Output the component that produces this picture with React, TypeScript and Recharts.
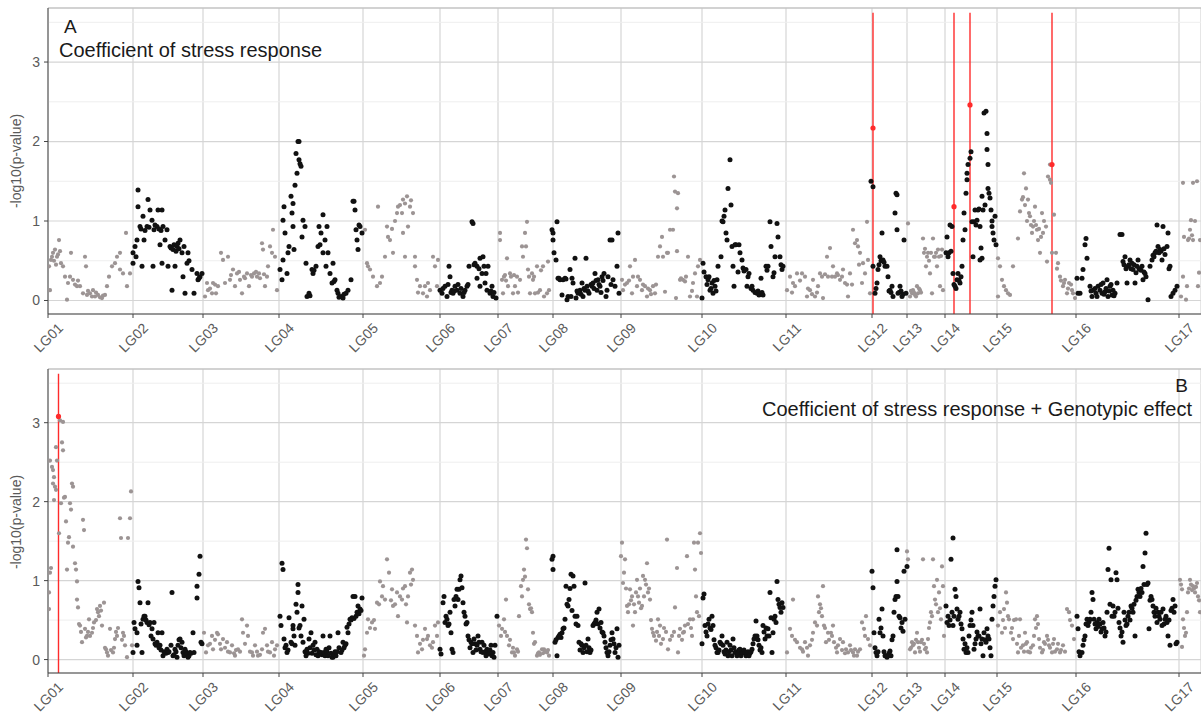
import {
  CartesianGrid,
  ReferenceLine,
  Scatter,
  ScatterChart,
  XAxis,
  YAxis,
} from "recharts";

// linkage groups: label and start position on the concatenated map
const lgNames = ["LG01", "LG02", "LG03", "LG04", "LG05", "LG06", "LG07", "LG08", "LG09", "LG10", "LG11", "LG12", "LG13", "LG14", "LG15", "LG16", "LG17"];
const lgStarts = [0, 85, 155, 231, 315, 392, 450, 505, 573, 654, 738, 824, 859, 897, 949, 1028, 1131];
const yTicks = [0, 1, 2, 3];
const yMinor = [0.5, 1.5, 2.5, 3.5];

// ---- panel A: coefficient of stress response, [position, -log10(p)] ----
const A_LG01 = [[1,0.43],[2,0.13],[3,0.51],[4,0.55],[5,0.6],[6,0.5],[7,0.64],[8,0.45],[9,0.55],[10,0.58],[11,0.76],[12,0.62],[13,0.47],[15,0.43],[17,0.3],[19,0.01],[20,0.22],[22,0.3],[23,0.6],[25,0.26],[27,0.2],[29,0.18],[30,0.25],[32,0.18],[35,0.09],[37,0.55],[38,0.43],[39,0.07],[40,0.12],[42,0.09],[44,0.05],[45,0.13],[47,0.05],[48,0.1],[50,0.07],[52,0.04],[54,0.03],[55,0.06],[57,0.07],[59,0.18],[61,0.3],[64,0.43],[67,0.47],[69,0.55],[72,0.39],[72,0.6],[75,0.34],[78,0.85],[79,0.18],[82,0.34]];
const A_LG02 = [[85,0.47],[85,0.6],[87,0.68],[88,0.55],[89,0.76],[90,1.18],[90,1.39],[92,0.93],[93,0.9],[94,0.43],[95,1.06],[96,0.76],[97,0.88],[99,0.93],[100,1.27],[101,0.92],[102,1.14],[104,1.01],[105,0.43],[106,0.89],[107,0.95],[109,0.93],[110,1.14],[111,0.9],[112,0.7],[113,0.88],[114,1.14],[114,0.47],[115,0.93],[117,0.76],[119,0.89],[120,0.43],[122,0.68],[123,0.66],[124,0.13],[125,0.64],[126,0.7],[127,0.43],[128,0.62],[129,0.68],[130,0.72],[131,0.65],[132,0.76],[134,0.6],[135,0.3],[136,0.68],[137,0.09],[139,0.47],[140,0.6],[141,0.5],[144,0.39],[146,0.09],[149,0.34],[150,0.26],[151,0.28],[152,0.3],[154,0.34]];
const A_LG03 = [[157,0.05],[159,0.22],[160,0.13],[162,0.15],[164,0.09],[165,0.22],[167,0.2],[168,0.09],[170,0.18],[173,0.6],[175,0.51],[177,0.22],[180,0.55],[182,0.26],[183,0.32],[185,0.39],[187,0.18],[189,0.34],[191,0.36],[192,0.26],[194,0.09],[196,0.3],[197,0.28],[199,0.34],[201,0.18],[203,0.32],[204,0.3],[206,0.34],[208,0.36],[209,0.3],[211,0.34],[212,0.28],[214,0.72],[215,0.64],[216,0.33],[217,0.18],[219,0.3],[220,0.43],[222,0.68],[224,0.6],[225,0.89],[227,0.55],[229,0.13]];
const A_LG04 = [[232,0.39],[234,0.26],[235,0.51],[235,1.01],[236,1.18],[237,0.85],[239,0.34],[240,0.6],[241,0.68],[243,1.31],[244,1.1],[245,1.22],[245,0.93],[246,0.64],[247,1.45],[248,1.85],[249,1.6],[250,2.0],[251,2.0],[251,1.77],[252,1.72],[253,1.69],[254,0.8],[255,1.01],[257,0.93],[258,0.47],[259,0.05],[261,0.09],[262,0.06],[264,0.39],[265,0.34],[266,0.38],[268,0.43],[270,0.68],[271,0.93],[272,0.7],[273,0.85],[275,1.08],[275,0.6],[277,0.76],[278,0.43],[279,0.93],[280,0.6],[282,0.34],[284,0.22],[285,0.47],[286,0.24],[287,0.26],[289,0.13],[290,0.09],[291,0.04],[293,0.05],[295,0.03],[296,0.08],[298,0.09],[300,0.13],[303,0.26],[305,1.25],[306,1.25],[307,1.14],[308,0.89],[309,0.76],[310,0.64],[311,0.95],[312,0.93],[314,0.85]];
const A_LG05 = [[317,0.89],[319,0.47],[320,0.43],[322,0.39],[325,0.3],[329,0.18],[330,1.18],[332,0.22],[334,0.3],[337,0.55],[339,0.93],[340,0.8],[342,0.76],[344,0.9],[345,0.6],[347,1.0],[349,1.1],[350,1.18],[352,1.2],[354,1.1],[355,1.27],[355,0.85],[357,0.55],[357,1.22],[359,1.31],[360,0.93],[362,1.18],[363,1.26],[365,1.1],[367,0.55],[367,0.43],[369,0.26],[370,0.1],[372,0.18],[375,0.09],[377,0.18],[379,0.05],[380,0.22],[382,0.13],[385,0.55],[387,0.43],[389,0.18],[390,0.51]];
const A_LG06 = [[392,0.13],[394,0.09],[395,0.15],[397,0.18],[399,0.05],[400,0.2],[401,0.43],[402,0.3],[403,0.1],[404,0.13],[405,0.09],[406,0.12],[407,0.18],[409,0.13],[410,0.2],[412,0.09],[413,0.15],[415,0.05],[416,0.1],[417,0.13],[419,0.18],[420,0.2],[421,0.43],[424,0.99],[425,0.97],[426,0.45],[427,0.47],[429,0.43],[429,0.28],[431,0.4],[432,0.53],[432,0.18],[434,0.34],[435,0.55],[436,0.43],[437,0.22],[438,0.34],[439,0.13],[440,0.43],[442,0.09],[443,0.12],[444,0.18],[445,0.05],[446,0.1],[448,0.03]];
const A_LG07 = [[452,0.85],[452,0.76],[454,0.26],[455,0.09],[456,0.3],[457,0.32],[458,0.25],[459,0.53],[460,0.18],[462,0.34],[463,0.3],[465,0.09],[466,0.32],[467,0.18],[469,0.3],[470,0.1],[472,0.26],[474,0.68],[475,0.55],[477,0.85],[478,0.68],[479,0.99],[480,0.39],[481,0.3],[482,0.09],[484,0.34],[485,0.26],[486,0.3],[487,0.09],[489,0.43],[490,0.1],[492,0.13],[493,0.38],[495,0.43],[496,0.05],[499,0.09],[500,0.49],[501,0.13]];
const A_LG08 = [[504,0.89],[505,0.85],[505,0.76],[506,0.6],[508,0.51],[509,0.99],[510,0.28],[511,0.28],[512,0.26],[514,0.07],[515,0.26],[517,0.28],[518,0.27],[519,0.01],[520,0.05],[522,0.39],[523,0.05],[524,0.28],[525,0.22],[527,0.53],[528,0.03],[529,0.12],[530,0.09],[532,0.13],[533,0.08],[534,0.22],[535,0.05],[536,0.15],[537,0.13],[538,0.53],[539,0.18],[540,0.12],[541,0.09],[543,0.2],[544,0.18],[545,0.22],[546,0.15],[547,0.34],[548,0.25],[549,0.13],[550,0.26],[551,0.2],[552,0.18],[553,0.1],[554,0.3],[555,0.25],[556,0.34],[558,0.05],[559,0.13],[560,0.3],[562,0.76],[563,0.2],[564,0.76],[565,0.26],[567,0.18],[569,0.43],[570,0.85],[571,0.09]];
const A_LG09 = [[574,0.26],[575,0.13],[577,0.2],[579,0.22],[581,0.25],[582,0.43],[584,0.09],[585,0.3],[587,0.51],[589,0.18],[590,0.3],[592,0.26],[594,0.13],[595,0.2],[597,0.18],[599,0.05],[600,0.15],[602,0.13],[603,0.08],[605,0.18],[607,0.09],[608,0.2],[610,0.55],[612,0.68],[614,0.8],[615,0.55],[617,0.11],[619,0.6],[620,0.6],[622,0.89],[625,0.89],[626,1.56],[627,1.37],[628,0.03],[629,1.16],[629,0.62],[630,1.35],[632,0.26],[633,0.28],[635,0.26],[637,0.24],[638,0.3],[640,0.55],[642,0.05],[644,0.12],[645,0.22],[647,0.34],[649,0.05],[650,0.43],[652,0.51]];
const A_LG10 = [[654,0.03],[655,0.47],[656,0.36],[658,0.3],[659,0.2],[660,0.26],[661,0.3],[662,0.13],[663,0.15],[664,0.22],[665,0.09],[666,0.25],[667,0.18],[668,0.12],[669,0.26],[670,0.43],[673,0.55],[674,1.0],[675,0.99],[676,1.06],[677,1.14],[678,0.85],[679,0.76],[680,1.41],[682,1.77],[683,1.2],[684,0.68],[685,0.43],[686,0.18],[687,0.7],[688,0.7],[690,0.36],[691,0.7],[692,0.6],[694,0.51],[695,0.41],[696,0.37],[698,0.39],[699,0.18],[700,0.3],[701,0.34],[703,0.15],[704,0.18],[705,0.13],[707,0.1],[709,0.09],[710,0.12],[711,0.07],[713,0.28],[714,0.1],[715,0.07],[718,0.43],[719,0.38],[720,0.43],[722,0.99],[723,0.68],[725,0.3],[726,0.35],[727,0.55],[729,0.97],[730,0.8],[732,0.55],[733,0.45],[734,0.39],[735,0.43]];
const A_LG11 = [[739,0.13],[742,0.3],[744,0.1],[745,0.22],[747,0.18],[749,0.34],[752,0.25],[754,0.34],[757,0.3],[759,0.05],[760,0.15],[762,0.13],[764,0.08],[765,0.26],[767,0.05],[769,0.1],[770,0.18],[772,0.34],[774,0.3],[775,0.03],[777,0.33],[779,0.55],[780,0.3],[782,0.66],[784,0.3],[785,0.43],[787,0.3],[789,0.34],[790,0.32],[792,0.26],[794,0.3],[795,0.39],[797,0.22],[799,0.2],[800,0.05],[802,0.34],[804,0.2],[805,0.89],[807,0.72],[809,0.76],[810,0.68],[811,0.45],[812,0.6],[814,0.22],[815,0.47],[817,0.34],[819,0.99],[820,0.51],[822,0.09]];
const A_LG12 = [[823,1.5],[825,1.43],[825,0.43],[827,0.09],[828,0.15],[829,0.22],[830,0.39],[831,0.45],[832,0.55],[833,0.5],[834,0.85],[835,0.51],[836,0.48],[837,0.43],[839,0.43],[840,0.3],[841,0.12],[842,0.13],[843,0.1],[844,0.18],[845,0.05],[847,1.1],[848,1.35],[849,1.33],[849,0.89],[850,0.09],[851,0.1],[852,0.18],[853,0.12],[854,0.05],[855,0.08],[856,0.76],[858,0.09]];
const A_LG13 = [[860,0.97],[862,0.05],[863,0.12],[864,0.09],[865,0.13],[866,0.1],[867,0.07],[868,0.05],[869,0.18],[870,0.09],[871,0.15],[872,0.13],[873,0.1],[875,0.78],[876,0.6],[877,0.65],[878,0.43],[879,0.55],[880,0.6],[881,0.5],[882,0.34],[883,0.6],[884,0.09],[885,0.78],[886,0.55],[887,0.55],[888,0.6],[889,0.43],[890,0.64],[891,0.55],[892,0.18],[893,0.56],[894,0.64],[895,0.13]];
const A_LG14 = [[898,0.6],[899,0.8],[900,0.55],[901,0.6],[902,0.95],[903,0.62],[904,0.93],[905,0.34],[906,0.2],[907,0.18],[908,0.15],[909,0.26],[910,0.34],[911,0.25],[912,0.22],[913,0.3],[914,0.43],[915,0.76],[916,1.1],[917,0.89],[918,1.35],[919,1.52],[919,1.6],[920,1.71],[922,1.79],[923,1.87],[924,0.99],[925,0.55],[926,0.99],[927,1.14],[928,0.95],[929,1.01],[930,1.14],[931,1.15],[932,0.93],[932,0.51],[933,0.66],[934,1.31],[934,0.53],[935,1.14],[936,2.36],[937,1.2],[938,2.38],[939,2.1],[939,1.9],[940,1.71],[940,1.41],[941,1.35],[942,1.29],[943,1.14],[944,0.93],[944,1.0],[945,0.85],[946,0.76],[947,1.06],[948,0.7]];
const A_LG15 = [[950,0.53],[950,0.05],[952,0.43],[954,0.26],[956,0.18],[958,0.13],[960,0.09],[962,0.07],[965,0.43],[970,0.78],[972,1.12],[974,1.27],[975,1.3],[976,1.6],[977,1.2],[978,1.41],[979,1.0],[980,1.27],[981,1.1],[982,1.06],[983,0.95],[984,0.85],[985,0.93],[986,1.0],[987,1.18],[988,0.95],[989,0.89],[990,0.76],[991,0.9],[992,0.6],[993,0.8],[994,1.1],[995,0.85],[996,1.0],[998,0.93],[999,0.49],[1000,1.56],[1002,1.52],[1002,1.71],[1003,1.48],[1004,0.6],[1006,1.08],[1008,0.6],[1009,0.4],[1010,0.47],[1012,0.3],[1013,0.25],[1015,0.18],[1016,0.22],[1017,0.26],[1019,0.09],[1020,0.15],[1021,0.22],[1023,0.2],[1024,0.13],[1025,0.09],[1027,0.03]];
const A_LG16 = [[1029,0.28],[1030,0.09],[1032,0.09],[1034,0.28],[1035,0.39],[1037,0.7],[1038,0.78],[1039,0.53],[1042,0.18],[1043,0.12],[1044,0.05],[1045,0.13],[1047,0.15],[1048,0.09],[1049,0.05],[1050,0.18],[1052,0.13],[1053,0.2],[1054,0.09],[1055,0.22],[1056,0.08],[1057,0.11],[1058,0.15],[1059,0.26],[1060,0.05],[1061,0.12],[1062,0.18],[1063,0.2],[1064,0.07],[1065,0.13],[1066,0.06],[1067,0.09],[1069,0.22],[1072,0.83],[1074,0.83],[1075,0.49],[1076,0.45],[1077,0.55],[1078,0.4],[1079,0.22],[1080,0.43],[1081,0.45],[1082,0.51],[1083,0.4],[1084,0.47],[1085,0.39],[1086,0.45],[1087,0.22],[1088,0.35],[1089,0.43],[1090,0.51],[1091,0.4],[1092,0.39],[1093,0.38],[1094,0.43],[1095,0.26],[1096,0.36],[1097,0.34],[1098,0.3],[1100,0.01],[1102,0.43],[1104,0.51],[1105,0.57],[1106,0.55],[1107,0.6],[1108,0.62],[1109,0.95],[1110,0.68],[1111,0.6],[1112,0.64],[1113,0.62],[1114,0.51],[1115,0.93],[1116,0.65],[1117,0.58],[1119,0.68],[1120,0.85],[1121,0.4],[1122,0.43],[1123,0.05],[1125,0.09],[1127,0.13],[1129,0.18]];
const A_LG17 = [[1133,0.05],[1135,1.48],[1135,0.3],[1136,0.8],[1138,0.01],[1139,0.18],[1140,0.76],[1141,0.78],[1142,0.89],[1143,1.01],[1144,0.82],[1145,0.76],[1145,1.48],[1147,1.0],[1149,1.5],[1150,0.18],[1151,0.35],[1152,0.76]];
// significant markers (red) in panel A
const A_hits = [[825,2.17],[906,1.18],[922,2.46],[1004,1.71]];

// ---- panel B: coefficient of stress response + genotypic effect ----
const B_LG01 = [[1,0.85],[1,0.64],[2,1.1],[3,1.16],[2,2.52],[4,2.44],[5,2.4],[5,2.23],[6,2.31],[6,2.02],[7,2.19],[8,2.69],[8,2.15],[9,2.52],[11,1.6],[12,3.03],[13,1.98],[14,2.75],[15,3.01],[15,2.65],[16,2.05],[17,2.06],[18,1.75],[19,1.14],[20,1.48],[21,1.55],[22,1.98],[23,1.9],[24,2.23],[25,2.19],[25,1.43],[27,1.22],[28,1.14],[29,0.99],[29,0.76],[30,0.66],[31,0.45],[32,0.43],[33,0.35],[34,0.22],[35,1.77],[36,1.64],[37,0.39],[38,0.28],[39,0.3],[40,0.35],[41,0.51],[42,0.3],[44,0.34],[45,0.4],[46,0.47],[48,0.5],[49,0.64],[50,0.6],[51,0.55],[52,0.68],[53,0.62],[54,0.43],[56,0.72],[57,0.15],[58,0.13],[59,0.09],[60,0.05],[62,0.39],[63,0.12],[65,0.09],[66,0.15],[67,0.26],[68,0.35],[69,0.3],[70,0.4],[72,1.79],[73,1.54],[74,0.25],[75,0.34],[76,0.3],[77,0.18],[79,0.03],[80,1.54],[82,1.79],[83,2.13],[84,0.18]];
const B_LG02 = [[85,0.09],[86,0.47],[87,0.39],[89,0.34],[89,0.18],[90,0.99],[91,0.91],[92,0.72],[93,0.45],[94,0.09],[95,0.51],[96,0.55],[97,0.55],[98,0.5],[99,0.47],[100,0.72],[101,0.44],[102,0.47],[103,0.3],[104,0.39],[105,0.26],[106,0.47],[107,0.2],[108,0.18],[109,0.22],[110,0.34],[111,0.15],[112,0.18],[113,0.12],[114,0.34],[115,0.05],[116,0.1],[117,0.09],[118,0.08],[119,0.13],[120,0.09],[121,0.1],[123,0.18],[124,0.85],[125,0.05],[126,0.06],[127,0.13],[128,0.1],[129,0.03],[130,0.18],[131,0.25],[132,0.26],[133,0.15],[134,0.22],[135,0.09],[136,0.05],[137,0.13],[138,0.1],[139,0.07],[140,0.03],[141,0.05],[142,0.09],[143,0.08],[145,0.34],[146,0.09],[149,0.78],[149,0.93],[151,1.08],[152,1.31],[153,0.22],[154,0.2]];
const B_LG03 = [[156,0.34],[158,0.09],[160,0.18],[162,0.2],[164,0.3],[165,0.13],[167,0.25],[169,0.34],[170,0.32],[172,0.2],[173,0.13],[175,0.26],[177,0.15],[179,0.22],[180,0.1],[182,0.09],[184,0.18],[186,0.08],[187,0.05],[188,0.12],[190,0.13],[192,0.1],[194,0.51],[195,0.34],[197,0.2],[199,0.43],[200,0.3],[202,0.1],[204,0.09],[205,0.05],[207,0.18],[209,0.1],[210,0.05],[212,0.06],[214,0.13],[215,0.34],[217,0.39],[219,0.18],[220,0.1],[222,0.09],[224,0.22],[226,0.05],[227,0.13],[229,0.18]];
const B_LG04 = [[232,0.55],[233,0.43],[234,1.22],[235,1.14],[236,0.26],[237,0.15],[238,0.18],[239,0.09],[240,0.12],[241,0.53],[243,0.22],[244,0.2],[245,0.43],[245,0.39],[246,0.3],[247,0.18],[248,0.7],[249,0.6],[250,0.85],[250,0.95],[251,0.4],[252,0.43],[253,0.3],[254,0.68],[255,0.22],[256,0.51],[257,0.1],[258,0.05],[259,0.13],[260,0.08],[261,0.26],[262,0.15],[263,0.34],[264,0.08],[265,0.18],[266,0.12],[267,0.22],[268,0.06],[269,0.13],[270,0.05],[271,0.1],[273,0.09],[274,0.06],[275,0.3],[276,0.09],[277,0.05],[278,0.13],[279,0.1],[280,0.05],[281,0.15],[282,0.3],[283,0.08],[284,0.03],[285,0.03],[286,0.06],[287,0.1],[288,0.05],[289,0.1],[290,0.34],[291,0.15],[293,0.09],[294,0.12],[295,0.22],[296,0.15],[297,0.18],[298,0.2],[299,0.41],[300,0.34],[301,0.45],[302,0.51],[303,0.5],[304,0.53],[305,0.8],[306,0.52],[307,0.8],[308,0.55],[309,0.6],[310,0.68],[311,0.58],[312,0.64],[313,0.62],[314,0.78]];
const B_LG05 = [[316,0.05],[317,0.13],[319,0.34],[320,0.51],[322,0.4],[324,0.47],[326,0.5],[327,0.39],[329,0.72],[331,0.7],[332,0.99],[334,0.8],[335,0.93],[337,0.76],[339,1.27],[341,1.1],[343,0.75],[344,0.89],[345,0.68],[347,0.7],[349,0.85],[350,0.55],[352,0.8],[354,0.76],[355,0.9],[357,0.93],[358,0.7],[359,0.47],[360,0.8],[362,1.1],[363,0.95],[364,1.14],[365,1.01],[367,0.43],[369,0.3],[370,0.09],[372,0.2],[374,0.13],[375,0.25],[377,0.39],[379,0.26],[380,0.3],[382,0.18],[384,0.15],[385,0.22],[387,0.43],[389,0.3],[390,0.47]];
const B_LG06 = [[392,0.13],[393,0.07],[395,0.72],[396,0.8],[397,0.47],[398,0.55],[399,0.51],[400,0.43],[401,0.45],[402,0.6],[403,0.34],[404,0.13],[405,0.09],[406,0.76],[407,0.68],[408,0.8],[409,0.89],[410,0.76],[411,0.89],[412,1.01],[413,1.06],[414,0.91],[415,0.72],[416,0.6],[417,0.55],[418,0.45],[419,0.47],[420,0.3],[421,0.25],[422,0.15],[423,0.22],[424,0.2],[425,0.09],[426,0.26],[427,0.2],[428,0.12],[429,0.18],[430,0.3],[431,0.22],[432,0.13],[433,0.1],[434,0.22],[435,0.09],[436,0.18],[437,0.1],[438,0.05],[439,0.13],[440,0.1],[441,0.07],[442,0.12],[443,0.18],[444,0.05],[445,0.09],[446,0.03],[447,0.18],[449,0.55]];
const B_LG07 = [[451,0.43],[453,0.3],[454,0.39],[456,0.51],[457,0.35],[458,0.76],[459,0.3],[461,0.18],[462,0.25],[464,0.09],[465,0.15],[466,0.09],[467,0.05],[469,0.13],[470,0.1],[471,0.55],[473,0.93],[474,0.8],[475,1.01],[476,1.14],[477,1.05],[478,1.52],[479,1.41],[480,0.89],[481,0.7],[482,0.64],[483,0.65],[484,0.6],[485,0.34],[486,0.2],[487,0.22],[489,0.05],[490,0.08],[491,0.09],[492,0.06],[494,0.13],[495,0.08],[496,0.13],[497,0.1],[499,0.09],[500,0.12],[501,0.05]];
const B_LG08 = [[504,1.27],[505,1.31],[505,1.14],[507,0.22],[508,0.25],[509,0.05],[510,0.28],[511,0.3],[512,0.32],[513,0.28],[514,0.34],[515,0.39],[516,0.4],[517,0.51],[518,0.93],[519,0.7],[520,0.68],[521,0.76],[522,0.9],[523,1.08],[524,0.62],[525,1.06],[526,0.93],[527,0.55],[528,0.45],[529,0.55],[530,0.43],[531,0.22],[532,0.12],[533,0.2],[534,0.18],[535,0.09],[536,0.15],[537,0.97],[538,0.18],[539,0.1],[540,0.26],[541,0.15],[542,0.09],[543,0.12],[545,0.43],[546,0.45],[547,0.47],[548,0.5],[549,0.6],[550,0.45],[551,0.64],[552,0.4],[553,0.47],[554,0.35],[555,0.34],[556,0.3],[557,0.22],[558,0.15],[559,0.09],[560,0.05],[561,0.1],[562,0.18],[563,0.25],[564,0.34],[565,0.26],[566,0.2],[567,0.09],[568,0.15],[569,0.39],[570,0.03],[571,0.18]];
const B_LG09 = [[573,1.31],[574,1.48],[575,0.97],[576,1.1],[577,1.27],[578,0.9],[579,0.68],[580,0.6],[581,0.7],[582,0.89],[583,0.75],[584,0.8],[585,0.43],[586,0.7],[587,0.6],[588,0.85],[589,1.01],[590,0.8],[591,0.72],[592,0.9],[593,0.65],[594,0.68],[595,1.06],[596,0.8],[597,1.01],[598,0.95],[599,1.22],[600,0.85],[601,0.9],[602,0.76],[603,0.5],[604,0.39],[605,0.34],[606,0.3],[608,0.24],[609,0.35],[610,0.51],[611,0.3],[612,0.43],[613,0.2],[615,0.26],[616,0.4],[618,0.35],[619,1.52],[620,0.13],[622,0.25],[624,0.3],[626,0.35],[627,0.66],[629,1.16],[630,0.09],[631,0.3],[632,0.39],[634,0.25],[635,0.34],[636,0.35],[637,0.43],[639,1.31],[640,0.45],[642,0.51],[643,0.4],[644,0.3],[645,0.51],[646,1.48],[647,1.14],[648,0.8],[649,0.6],[650,1.48],[651,0.55],[652,1.6],[653,1.35]];
const B_LG10 = [[654,0.2],[655,0.78],[656,0.83],[657,0.43],[658,0.35],[659,0.3],[660,0.45],[661,0.51],[662,0.4],[663,0.38],[664,0.55],[665,0.43],[666,0.25],[667,0.18],[668,0.15],[669,0.09],[670,0.09],[671,0.12],[672,0.22],[673,0.2],[674,0.3],[675,0.18],[676,0.1],[677,0.07],[678,0.12],[679,0.22],[680,0.05],[681,0.1],[682,0.18],[683,0.12],[684,0.05],[685,0.26],[686,0.15],[687,0.09],[688,0.1],[689,0.05],[690,0.08],[691,0.12],[692,0.13],[693,0.05],[694,0.09],[695,0.09],[696,0.12],[697,0.08],[698,0.05],[699,0.09],[700,0.1],[701,0.05],[702,0.08],[703,0.1],[704,0.13],[705,0.2],[706,0.26],[707,0.3],[708,0.49],[709,0.3],[710,0.25],[711,0.18],[712,0.12],[713,0.15],[714,0.09],[715,0.43],[716,0.35],[717,0.26],[718,0.4],[719,0.3],[720,0.39],[721,0.3],[722,0.85],[723,0.53],[724,0.09],[725,0.34],[726,0.51],[727,0.55],[728,0.47],[729,0.99],[730,0.76],[731,0.7],[732,0.66],[733,0.6],[734,0.72],[735,0.66]];
const B_LG11 = [[739,0.09],[742,0.39],[744,0.3],[745,0.76],[747,0.25],[749,0.22],[752,0.15],[754,0.13],[755,0.1],[757,0.22],[759,0.15],[760,0.05],[762,0.18],[764,0.25],[765,0.34],[767,0.47],[769,0.43],[770,0.8],[771,0.6],[772,0.7],[773,0.65],[774,0.55],[775,0.93],[776,0.43],[777,0.4],[778,0.22],[780,0.34],[781,0.25],[783,0.34],[784,0.3],[785,0.43],[786,0.22],[788,0.15],[789,0.09],[790,0.18],[792,0.26],[794,0.12],[795,0.22],[797,0.08],[798,0.13],[800,0.09],[802,0.18],[803,0.12],[805,0.09],[806,0.05],[807,0.13],[809,0.05],[810,0.1],[812,0.13],[814,0.47],[816,0.39],[817,0.3],[818,0.55],[820,0.26],[822,0.18]];
const B_LG12 = [[824,1.12],[825,0.91],[826,0.34],[827,0.15],[828,0.09],[829,0.05],[830,0.1],[831,0.51],[832,0.34],[833,0.4],[834,0.64],[835,0.3],[836,0.1],[837,0.05],[838,0.05],[839,0.03],[840,0.05],[841,0.08],[842,0.11],[843,0.05],[844,0.25],[845,0.3],[846,0.6],[847,0.76],[848,0.8],[849,0.99],[849,1.39],[850,0.8],[851,0.55],[852,0.53],[853,0.4],[854,0.47],[855,0.36],[856,1.12],[857,0.51],[859,1.18]];
const B_LG13 = [[859,1.37],[860,1.27],[862,0.13],[863,0.15],[864,0.22],[865,0.18],[866,0.2],[867,0.09],[868,0.25],[869,0.34],[870,0.22],[871,0.15],[872,0.1],[873,0.22],[874,0.25],[875,1.27],[876,0.2],[877,0.13],[878,0.15],[879,0.09],[880,0.26],[881,0.4],[882,0.47],[883,0.6],[884,0.55],[885,1.27],[886,0.93],[887,0.76],[888,0.7],[889,1.01],[890,0.6],[891,0.85],[892,0.65],[893,0.51],[894,1.18],[895,0.93],[896,0.3]];
const B_LG14 = [[898,0.68],[899,0.47],[900,0.55],[901,0.43],[902,0.5],[903,1.27],[904,0.6],[905,1.54],[905,0.43],[906,0.55],[907,0.89],[908,0.8],[909,0.64],[910,0.51],[911,0.55],[912,0.6],[913,0.45],[914,0.39],[915,0.26],[916,0.13],[917,0.2],[918,0.09],[919,0.15],[920,0.09],[921,0.3],[922,0.43],[923,0.5],[924,0.6],[925,0.43],[926,0.13],[927,0.2],[928,0.26],[929,0.35],[930,0.3],[931,0.3],[932,0.64],[933,0.2],[934,0.26],[935,0.05],[936,0.34],[937,0.25],[938,0.22],[939,0.39],[940,0.3],[941,0.26],[942,0.15],[943,0.05],[944,0.51],[945,0.68],[946,0.8],[947,0.93],[948,1.01]];
const B_LG15 = [[950,0.43],[952,0.6],[954,0.34],[955,0.5],[956,0.64],[957,0.4],[958,0.85],[959,0.72],[960,0.55],[961,0.51],[963,0.34],[964,0.4],[965,0.26],[966,0.5],[968,0.51],[969,0.2],[970,0.09],[971,0.3],[972,0.51],[973,0.15],[975,0.18],[976,0.1],[977,0.34],[978,0.2],[979,0.22],[980,0.1],[982,0.09],[983,0.15],[985,0.18],[986,0.3],[987,0.51],[988,0.4],[989,0.55],[990,0.45],[991,0.26],[992,0.15],[994,0.09],[995,0.12],[996,0.22],[997,0.2],[999,0.3],[1000,0.25],[1001,0.18],[1002,0.15],[1004,0.09],[1005,0.2],[1006,0.26],[1007,0.1],[1009,0.13],[1010,0.2],[1012,0.09],[1013,0.12],[1015,0.18],[1017,0.1],[1019,0.64],[1021,0.6],[1022,0.5],[1024,0.43],[1026,0.26]];
const B_LG16 = [[1029,0.55],[1030,0.39],[1031,0.1],[1032,0.05],[1034,0.09],[1035,0.18],[1036,0.25],[1037,0.3],[1038,0.45],[1039,0.51],[1040,0.43],[1041,0.48],[1042,0.51],[1043,0.6],[1044,0.85],[1045,0.76],[1046,0.51],[1047,0.45],[1048,0.39],[1049,0.47],[1050,0.42],[1051,0.51],[1052,0.45],[1053,0.35],[1054,0.39],[1055,0.47],[1056,0.4],[1057,0.3],[1058,0.35],[1059,0.6],[1060,1.14],[1061,1.41],[1062,0.7],[1063,1.01],[1064,0.55],[1065,0.68],[1066,0.55],[1067,0.6],[1068,1.1],[1069,1.01],[1070,0.65],[1071,0.47],[1072,0.4],[1073,0.3],[1074,0.35],[1075,0.22],[1076,0.6],[1077,0.5],[1078,0.43],[1079,0.45],[1080,0.55],[1081,0.6],[1082,0.5],[1083,0.68],[1084,0.65],[1085,0.6],[1086,0.7],[1087,0.3],[1088,0.75],[1089,0.8],[1090,0.89],[1091,0.85],[1092,0.8],[1093,0.9],[1094,0.85],[1095,1.18],[1096,0.95],[1097,1.35],[1098,1.6],[1099,0.95],[1100,0.97],[1101,0.39],[1102,0.75],[1103,0.8],[1104,0.76],[1105,0.68],[1106,0.6],[1107,0.55],[1108,0.65],[1109,0.47],[1110,0.6],[1111,0.55],[1112,0.51],[1113,0.6],[1114,0.43],[1115,0.64],[1116,0.45],[1117,0.51],[1118,0.55],[1119,0.47],[1120,0.3],[1121,0.5],[1122,0.18],[1123,0.62],[1124,0.65],[1125,0.76],[1126,0.6],[1127,0.68],[1128,0.2],[1129,0.22]];
const B_LG17 = [[1132,1.01],[1133,0.95],[1134,0.89],[1134,0.16],[1135,0.51],[1136,0.4],[1137,0.3],[1138,0.34],[1139,0.6],[1140,0.85],[1141,0.9],[1142,1.01],[1143,0.95],[1144,0.88],[1145,0.93],[1146,0.9],[1147,0.85],[1148,0.92],[1149,0.97],[1150,0.8],[1151,0.75],[1152,0.6]];
const B_hits = [[10.5,3.08]];

const panelA = [A_LG01, A_LG02, A_LG03, A_LG04, A_LG05, A_LG06, A_LG07, A_LG08, A_LG09, A_LG10, A_LG11, A_LG12, A_LG13, A_LG14, A_LG15, A_LG16, A_LG17];
const panelB = [B_LG01, B_LG02, B_LG03, B_LG04, B_LG05, B_LG06, B_LG07, B_LG08, B_LG09, B_LG10, B_LG11, B_LG12, B_LG13, B_LG14, B_LG15, B_LG16, B_LG17];

const X_MAX = 1153;
const Y_MIN = -0.17;
const Y_MAX = 3.68;
const LINE_TOP = 3.62;

const GREY = "#9c9494";
const BLACK = "#111111";
const RED = "#ff2b2b";
const TICK_TEXT = "#5a5a5a";
const AXIS = "#444444";

// odd LGs grey, even LGs black
const pick = (groups: number[][][], parity: number) =>
  groups.flatMap((g, i) => (i % 2 === parity ? g.map(([x, y]) => ({ x, y })) : []));
const toPts = (rows: number[][]) => rows.map(([x, y]) => ({ x, y }));

const dot = (fill: string, r: number) => (p: any) =>
  <circle cx={p.cx} cy={p.cy} r={r} fill={fill} />;

function LgTick(props: any) {
  const { x, y, payload } = props;
  const label = lgNames[lgStarts.indexOf(payload.value)];
  const tx = x + 16;
  const ty = y + 11;
  return (
    <text x={tx} y={ty} transform={`rotate(-45 ${tx} ${ty})`} textAnchor="end" fontSize={14} fill={TICK_TEXT}>
      {label}
    </text>
  );
}

interface PanelProps {
  groups: number[][][];
  hits: number[][];
  height: number;
  top: number;
  axisHeight: number;
}

function Manhattan({ groups, hits, height, top, axisHeight }: PanelProps) {
  return (
    <ScatterChart width={1201} height={height} margin={{ top, right: 0, bottom: 0, left: 0 }}>
      <CartesianGrid stroke="#d5d5d5" strokeWidth={1.2} />
      {yMinor.map((v) => (
        <ReferenceLine key={v} y={v} stroke="#eeeeee" strokeWidth={1} />
      ))}
      <ReferenceLine y={Y_MAX} stroke="#b9b9b9" strokeWidth={1.2} />
      <XAxis
        type="number"
        dataKey="x"
        domain={[0, X_MAX]}
        ticks={lgStarts}
        interval={0}
        allowDataOverflow
        height={axisHeight}
        tickSize={4}
        tickMargin={0}
        stroke={AXIS}
        tick={<LgTick />}
      />
      <YAxis
        type="number"
        dataKey="y"
        domain={[Y_MIN, Y_MAX]}
        ticks={yTicks}
        allowDataOverflow
        width={48}
        tickSize={4}
        tickMargin={4}
        stroke={AXIS}
        tick={{ fontSize: 14, fill: TICK_TEXT }}
      />
      <Scatter data={pick(groups, 0)} shape={dot(GREY, 2.1)} isAnimationActive={false} />
      <Scatter data={pick(groups, 1)} shape={dot(BLACK, 2.5)} isAnimationActive={false} />
      {hits.map(([x]) => (
        <ReferenceLine
          key={x}
          segment={[{ x, y: Y_MIN }, { x, y: LINE_TOP }]}
          stroke={RED}
          strokeWidth={1.4}
        />
      ))}
      <Scatter data={toPts(hits)} shape={dot(RED, 2.6)} isAnimationActive={false} />
    </ScatterChart>
  );
}

export default function App() {
  return (
    <div
      style={{
        position: "absolute",
        left: 0,
        top: 0,
        width: 1201,
        height: 716,
        background: "#ffffff",
        fontFamily: "'Liberation Sans', Arial, sans-serif",
      }}
    >
      <Manhattan groups={panelA} hits={A_hits} height={360} top={8} axisHeight={46} />
      <Manhattan groups={panelB} hits={B_hits} height={356} top={9} axisHeight={43} />
      <svg
        width={1201}
        height={716}
        style={{ position: "absolute", left: 0, top: 0, pointerEvents: "none" }}
      >
        <text x={64} y={33} fontSize={19} fill="#1a1a1a">A</text>
        <text x={59} y={57} fontSize={20} fill="#1a1a1a">Coefficient of stress response</text>
        <text x={1188} y={392} fontSize={19} fill="#1a1a1a" textAnchor="end">B</text>
        <text x={1192} y={416} fontSize={20} fill="#1a1a1a" textAnchor="end">
          Coefficient of stress response + Genotypic effect
        </text>
        <text transform="translate(21,161) rotate(-90)" textAnchor="middle" fontSize={14} fill={TICK_TEXT}>
          -log10(p-value)
        </text>
        <text transform="translate(21,522) rotate(-90)" textAnchor="middle" fontSize={14} fill={TICK_TEXT}>
          -log10(p-value)
        </text>
      </svg>
    </div>
  );
}
